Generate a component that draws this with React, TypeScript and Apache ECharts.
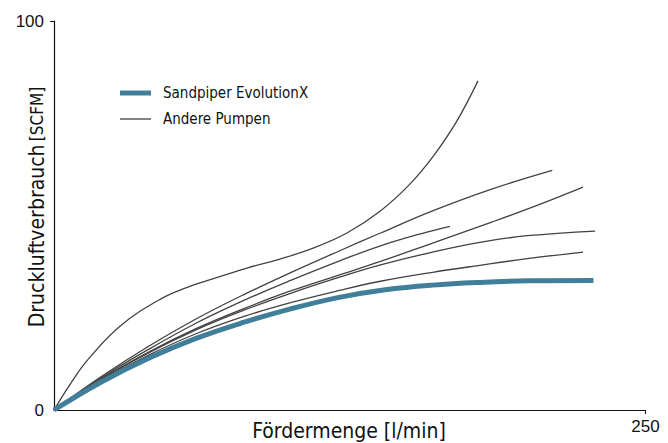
import React, { useEffect, useRef } from "react";
import * as echarts from "echarts";

// Values: [Fördermenge l/min, Druckluftverbrauch SCFM]
const sandpiper: number[][] = [
  [0, 0], [20, 7.2], [40, 13.3], [60, 18.4], [80, 22.5], [100, 26], [120, 28.9],
  [140, 30.9], [160, 32.1], [180, 32.8], [200, 33.2], [228, 33.3],
];
const pumpA: number[][] = [
  [0, 0], [7, 6.8], [14.4, 13], [28, 21.6], [45, 28.5], [56.6, 31.6], [65, 33.3],
  [81.6, 36.5], [95.5, 38.8], [109.5, 41.6], [123.8, 45.5], [137.8, 51.1], [150, 57.8],
  [160, 65], [170, 74], [179.2, 84.6],
];
const pumpB: number[][] = [
  [0, 0], [20, 8.6], [40, 16.4], [60, 23.4], [80, 29.6], [100, 35.3], [121, 41],
  [138, 45.5], [160, 51.2], [185, 56.8], [210.6, 61.6],
];
const pumpC: number[][] = [
  [0, 0], [20, 8.3], [40, 15.6], [60, 22.3], [80, 28.1], [100, 33.3], [121, 38.4],
  [138, 42.2], [155, 45.3], [167.4, 47.2],
];
const pumpD: number[][] = [
  [0, 0], [20, 8], [40, 14.9], [60, 20.9], [80, 26], [100, 30.6], [121, 34.8],
  [138, 38.2], [160, 42.9], [185, 48.3], [205, 52.8], [223.6, 57.3],
];
const pumpE: number[][] = [
  [0, 0], [20, 7.9], [40, 14.7], [60, 20.6], [80, 25.6], [100, 30], [121, 34.2],
  [138, 37.3], [160, 40.6], [180, 43.1], [200, 44.8], [228.7, 46],
];
const pumpF: number[][] = [
  [0, 0], [20, 7.6], [40, 14.1], [60, 19.6], [80, 24], [100, 27.6], [121, 30.8],
  [138, 33.1], [160, 35.4], [180, 37.2], [200, 38.9], [223.6, 40.6],
];
const otherPumps = [pumpA, pumpB, pumpC, pumpD, pumpE, pumpF];

const xTicks = [250];
const yTicks = [0, 100];
const legendNames = ["Sandpiper EvolutionX", "Andere Pumpen"];
const xName = "Fördermenge [l/min]";
const yNameMain = "Druckluftverbrauch";
const yNameUnit = "[SCFM]";

const BLUE = "#3f7f99";
const GRAY = "#424242";
const NARROW = "'Liberation Sans Narrow', 'DejaVu Sans Condensed', 'Liberation Sans', sans-serif";
const REG = "'Liberation Sans', Arial, sans-serif";

export default function App() {
  const ref = useRef<HTMLDivElement>(null);
  useEffect(() => {
    if (!ref.current) return;
    const chart = echarts.init(ref.current, undefined, { renderer: "svg" });
    const series: any[] = otherPumps.map((d) => ({
      type: "line",
      name: legendNames[1],
      data: d,
      smooth: 0.4,
      symbol: "none",
      lineStyle: { color: GRAY, width: 1.3 },
      z: 2,
    }));
    series.push({
      type: "line",
      name: legendNames[0],
      data: sandpiper,
      smooth: 0.4,
      symbol: "none",
      lineStyle: { color: BLUE, width: 5 },
      z: 3,
    });
    chart.setOption({
      animation: false,
      grid: { left: 54, top: 21, right: 22.5, bottom: 33, outerBoundsMode: "none", containLabel: false },
      xAxis: {
        type: "value",
        min: 0,
        max: 250,
        interval: 250,
        splitLine: { show: false },
        axisLine: { show: true, lineStyle: { color: "#111", width: 1.2 } },
        axisTick: { show: true, length: 4, customValues: xTicks, lineStyle: { color: "#111" } },
        axisLabel: { customValues: xTicks, color: "#111", fontSize: 17, fontFamily: REG, margin: 8 },
      },
      yAxis: {
        type: "value",
        min: 0,
        max: 100,
        interval: 100,
        splitLine: { show: false },
        axisLine: { show: true, lineStyle: { color: "#111", width: 1.2 } },
        axisTick: { show: true, length: 4, customValues: [100], lineStyle: { color: "#111" } },
        axisLabel: { customValues: yTicks, color: "#111", fontSize: 17, fontFamily: REG, margin: 10 },
      },
      graphic: [
        {
          type: "text",
          x: 349,
          y: 431,
          style: {
            text: xName,
            fontSize: 21,
            fontFamily: NARROW,
            fill: "#111",
            align: "center",
            verticalAlign: "middle",
          },
        },
        {
          type: "text",
          x: 37,
          y: 207,
          rotation: Math.PI / 2,
          style: {
            text: `{m|${yNameMain}} {u|${yNameUnit}}`,
            align: "center",
            verticalAlign: "middle",
            rich: {
              m: { fontSize: 21, fontFamily: NARROW, fill: "#111" },
              u: { fontSize: 17, fontFamily: NARROW, fill: "#111" },
            },
          },
        },
        { type: "line", shape: { x1: 120, y1: 93, x2: 151, y2: 93 }, style: { stroke: BLUE, lineWidth: 5 } },
        {
          type: "text",
          x: 163,
          y: 93,
          style: { text: legendNames[0], fontSize: 15, fontFamily: NARROW, fill: "#111", verticalAlign: "middle" },
        },
        { type: "line", shape: { x1: 120, y1: 119, x2: 151, y2: 119 }, style: { stroke: GRAY, lineWidth: 1.3 } },
        {
          type: "text",
          x: 163,
          y: 119,
          style: { text: legendNames[1], fontSize: 15, fontFamily: NARROW, fill: "#111", verticalAlign: "middle" },
        },
      ],
      series,
    });
    return () => chart.dispose();
  }, []);
  return <div ref={ref} style={{ width: 668, height: 443, position: "absolute", left: 0, top: 0 }} />;
}
